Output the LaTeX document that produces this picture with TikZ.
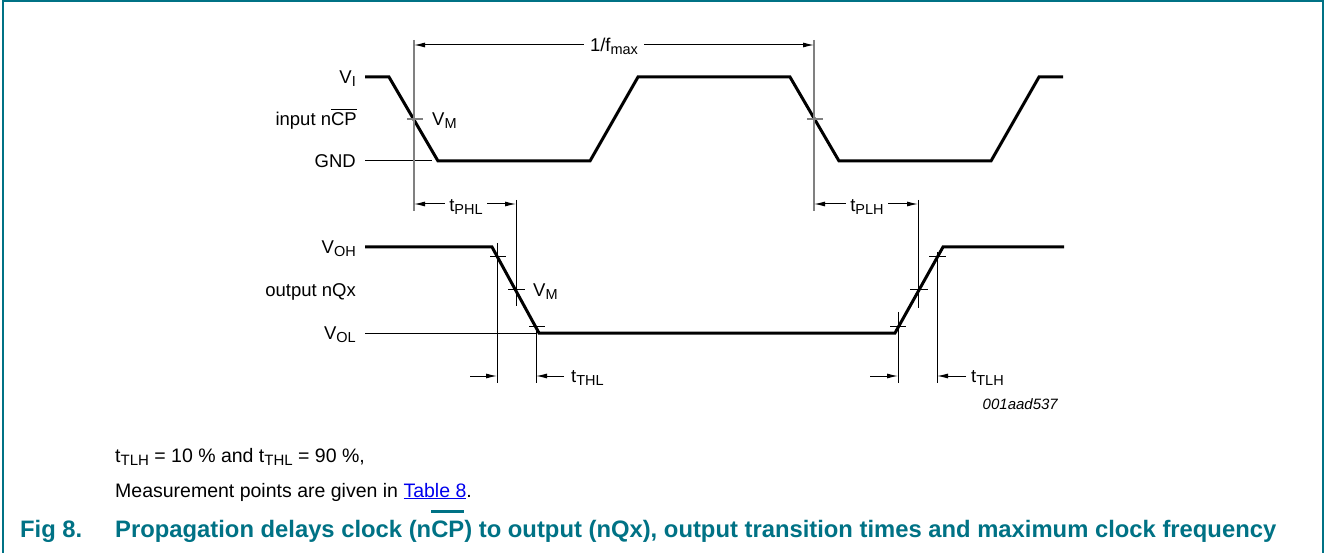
\documentclass[tikz,border=0pt]{standalone}
\usepackage{fontspec}
\setmainfont{Liberation Sans}
\usetikzlibrary{arrows.meta}
\definecolor{nxpteal}{RGB}{0,114,133}
\definecolor{linkblue}{RGB}{0,0,238}
\definecolor{refgray}{RGB}{128,128,128}
\newcommand{\lsb}[1]{\raisebox{-3pt}{\fontsize{14.5}{14.5}\selectfont #1}}
\newcommand{\bsb}[1]{\raisebox{-3pt}{\fontsize{15}{15}\selectfont #1}}
\newcommand{\hibar}[3]{\leavevmode\setbox0\hbox{#3}\rlap{\raisebox{#1}{\rule{\wd0}{#2}}}\box0}
\begin{document}
\begin{tikzpicture}[x=1pt,y=-1pt,
  wave/.style={line width=3pt},
  thinref/.style={line width=1pt, black},
  grayref/.style={line width=1.4pt, refgray},
  dim/.style={line width=1pt, black, {Latex[length=11pt,width=5pt]}-{Latex[length=11pt,width=5pt]}},
  dimr/.style={line width=1pt, black, -{Latex[length=11pt,width=5pt]}},
  lbl/.style={inner sep=0pt, font=\fontsize{18.5}{18.5}\selectfont},
  body/.style={inner sep=0pt, font=\fontsize{19.5}{19.5}\selectfont},
  capt/.style={inner sep=0pt, text=nxpteal, font=\bfseries\fontsize{23.8}{23.8}\selectfont}]
\useasboundingbox (0,0) rectangle (1325,553);
% frame
\draw[nxpteal, line width=2pt] (2.5,560) -- (2.5,1.5) -- (1322.5,1.5) -- (1322.5,560);

% ---------- input waveform ----------
\draw[wave] (365,77) -- (389,77) -- (438,161) -- (590,161) -- (638,77) -- (790,77) -- (839,161) -- (991,161) -- (1039,77) -- (1063,77);
\draw[thinref] (365,161) coordinate (gndA) -- (432,161) coordinate (gndB);
% reference verticals
\draw[grayref] (414,40) coordinate (v1t) -- (414,211) coordinate (v1b);
\draw[grayref] (814,40) coordinate (v2t) -- (814,211) coordinate (v2b);
\draw[grayref] (407,119) -- (423,119);
\draw[grayref] (807,119) -- (823,119);

% labels input
\node[lbl, anchor=base east] (lVI) at (356,83.5) {V\lsb{I}};
\node[lbl, anchor=base east] (lin) at (357,126) {input n\hibar{15.5pt}{1.3pt}{CP}};
\node[lbl, anchor=base east] (lgnd) at (356,168) {GND};
\node[lbl, anchor=base west] (lvm1) at (432,126) {V\lsb{M}};

% 1/fmax
\coordinate (f1) at (414,45);
\coordinate (f2) at (814,45);
\draw[dim] (f1) -- (f2);
\node[lbl, anchor=base, fill=white, inner xsep=6pt, inner ysep=3pt] (lfmax) at (614,52) {1/f\lsb{max}};

% tPHL / tPLH
\draw[thinref] (516,200) coordinate (v3t) -- (516,306) coordinate (v3b);
\draw[thinref] (918,200) coordinate (v4t) -- (918,308) coordinate (v4b);
\draw[dim] (414,204) -- (516,204);
\draw[dim] (814,204) -- (918,204);
\node[lbl, anchor=base, fill=white, inner xsep=4pt, inner ysep=3pt] (ltphl) at (466,212) {t\lsb{PHL}};
\node[lbl, anchor=base, fill=white, inner xsep=4pt, inner ysep=3pt] (ltplh) at (867,212) {t\lsb{PLH}};

% ---------- output waveform ----------
\draw[wave] (365,247) -- (492,247) -- (539,333) -- (895,333) -- (943,247) -- (1064,247);
\draw[thinref] (365,333) -- (537,333);
% falling edge ticks and verticals
\draw[thinref] (490,257) -- (506,257);
\draw[thinref] (508,290) -- (525,290);
\draw[thinref] (529,326) -- (545,326);
\draw[thinref] (497,243) coordinate (v5t) -- (497,383) coordinate (v5b);
\draw[thinref] (536,327) coordinate (v6t) -- (536,383) coordinate (v6b);
% rising edge ticks and verticals
\draw[thinref] (890,326) -- (906,326);
\draw[thinref] (910,290) -- (928,290);
\draw[thinref] (929,257) -- (946,257);
\draw[thinref] (898,312) coordinate (v7t) -- (898,383) coordinate (v7b);
\draw[thinref] (937,252) coordinate (v8t) -- (937,383) coordinate (v8b);

% bottom arrows
\coordinate (a1) at (470,376);
\coordinate (a2) at (497,376);
\coordinate (a3) at (564,376);
\coordinate (a4) at (536,376);
\draw[dimr] (a1) -- (a2);
\draw[dimr] (a3) -- (a4);
\coordinate (a5) at (870,376);
\coordinate (a6) at (898,376);
\coordinate (a7) at (966,376);
\coordinate (a8) at (937,376);
\draw[dimr] (a5) -- (a6);
\draw[dimr] (a7) -- (a8);
\node[lbl, anchor=base west] (ltthl) at (571,382) {t\lsb{THL}};
\node[lbl, anchor=base west] (lttlh) at (971,382) {t\lsb{TLH}};

% labels output
\node[lbl, anchor=base east] (lVOH) at (356,253.5) {V\lsb{OH}};
\node[lbl, anchor=base east] (lout) at (356,297) {output nQx};
\node[lbl, anchor=base east] (lVOL) at (356,339.5) {V\lsb{OL}};
\node[lbl, anchor=base west] (lvm2) at (533,297) {V\lsb{M}};

\node[inner sep=0pt, anchor=base east, font=\itshape\fontsize{15}{15}\selectfont] (code) at (1058,409) {001aad537};

% ---------- notes and caption ----------
\node[body, anchor=base west] (n1) at (115,462.5) {t\bsb{TLH} = 10 \% and t\bsb{THL} = 90 \%,};
\node[body, anchor=base west] (n2) at (115,497) {Measurement points are given in \textcolor{linkblue}{\underline{Table 8}}.};
\node[capt, anchor=base west] (fig) at (20,537) {Fig 8.};
\node[capt, anchor=base west] (cap) at (115,537) {Propagation delays clock (n\hibar{24pt}{2.8pt}{CP}) to output (nQx), output transition times and maximum clock frequency};
\end{tikzpicture}
\end{document}
